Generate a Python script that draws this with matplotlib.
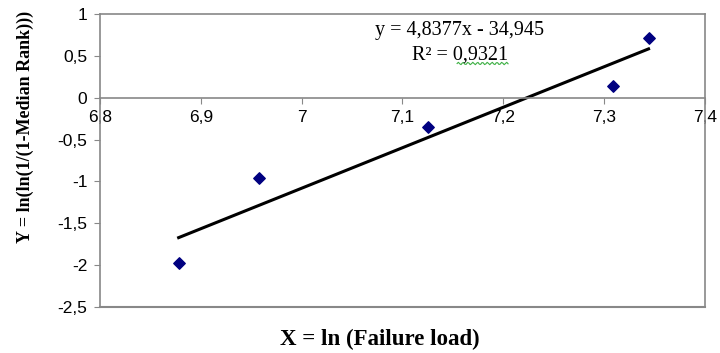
import numpy as np
import matplotlib
matplotlib.use("Agg")
import matplotlib.pyplot as plt
from matplotlib.ticker import FuncFormatter

# data
lnLoad = [6.878, 6.958, 7.125, 7.309, 7.344]
lnRank = [-1.979, -0.963, -0.350, 0.143, 0.717]
slope = 4.8377
intercept = -34.945
rSquared = 0.9321
xTicks = [6.8, 6.9, 7.0, 7.1, 7.2, 7.3, 7.4]
yTicks = [-2.5, -2, -1.5, -1, -0.5, 0, 0.5, 1]

def comma(v, pos=None):
    return ("%g" % round(v, 4)).replace(".", ",")

fig = plt.figure(figsize=(7.2, 3.53), dpi=100)
ax = fig.add_axes([100/720, 1-307/353, 605/720, 293/353])

ax.scatter(lnLoad, lnRank, marker="D", s=34, color="#000080", zorder=3)
xFit = np.array([min(lnLoad), max(lnLoad)])
ax.plot(xFit, slope*xFit + intercept, color="black", lw=2.2, zorder=2)

ax.set_xlim(6.8, 7.4)
ax.set_ylim(-2.5, 1)
ax.set_xticks(xTicks)
ax.set_yticks(yTicks)
ax.xaxis.set_major_formatter(FuncFormatter(comma))
ax.yaxis.set_major_formatter(FuncFormatter(comma))

for side in ["top", "right", "left", "bottom"]:
    ax.spines[side].set_color("#888888")
    ax.spines[side].set_linewidth(1.2)
ax.spines["bottom"].set_position(("data", 0))
# frame bottom at -2.5
ax.axhline(-2.5, color="#888888", lw=1.5, clip_on=False)
ax.tick_params(axis="both", direction="out", length=4, color="#888888",
               labelsize=12.5, labelcolor="black")
ax.tick_params(axis="x", pad=5)
ax.tick_params(axis="y", pad=5)
for lab in ax.get_xticklabels() + ax.get_yticklabels():
    lab.set_family("Liberation Sans")

eqText = "y = " + comma(slope) + "x - " + comma(-intercept)
ax.text(460/720, 1-31/353, eqText, transform=fig.transFigure,
        ha="center", va="center", family="Liberation Serif", fontsize=14.5)
r2 = fig.text(460/720, 1-55/353, "R² = " + comma(rSquared),
              ha="center", va="center", family="Liberation Serif", fontsize=14.5)

fig.text(380/720, 1-339/353, "X = ln (Failure load)", ha="center", va="center",
         family="Liberation Serif", fontweight="bold", fontsize=16.5)
fig.text(25/720, 1-127/353, "Y = ln(ln(1/(1-Median Rank)))", ha="center", va="center",
         rotation=90, family="Liberation Serif", fontweight="bold", fontsize=13)

# green spell-check squiggle under the R² value
fig.canvas.draw()
bb = r2.get_window_extent()
wx = np.linspace(bb.x0 + 0.47*bb.width, bb.x1, 40)
wy = bb.y0 + 1 + 1.2*np.sin((wx - wx[0]) * 1.3)
fig.add_artist(plt.Line2D(wx/720, wy/353, color="#3cb043", lw=0.8))

fig.savefig("out.png", dpi=100)
